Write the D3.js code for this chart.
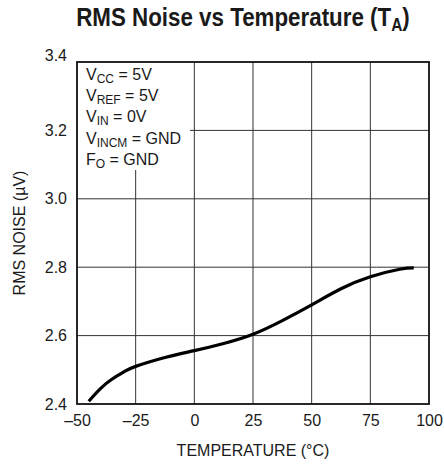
<!DOCTYPE html>
<html>
<head>
<meta charset="utf-8">
<script src="https://cdn.jsdelivr.net/npm/d3@7"></script>
<style>
  body { margin: 0; background: #fff; }
  svg text { font-family: "Liberation Sans", Arial, sans-serif; fill: #1a1a1a; }
</style>
</head>
<body>
<svg id="chart"></svg>
<script>
// values
const temps = [-45, -40, -35, -30, -25, -12.5, 0, 12.5, 25, 37.5, 50, 62.5, 75, 87.5, 93.5];
const noise = [2.408, 2.445, 2.473, 2.494, 2.51, 2.536, 2.556, 2.577, 2.604, 2.644, 2.69, 2.737, 2.772, 2.794, 2.798];

const xTicks = [-50, -25, 0, 25, 50, 75, 100];
const yTicks = [2.4, 2.6, 2.8, 3.0, 3.2, 3.4];

// conditions box: [main, subscript, rest]
const notes = [
    ['V', 'CC', ' = 5V'],
    ['V', 'REF', ' = 5V'],
    ['V', 'IN', ' = 0V'],
    ['V', 'INCM', ' = GND'],
    ['F', 'O', ' = GND']
];

function drawChart() {
    const width = 444;
    const height = 464;
    const margin = { top: 62, right: 15, bottom: 60, left: 77 };

    const svg = d3.select('#chart').attr('width', width).attr('height', height);

    const xScale = d3.scaleLinear().domain([-50, 100]).range([margin.left, width - margin.right]);
    const yScale = d3.scaleLinear().domain([2.4, 3.4]).range([height - margin.bottom, margin.top]);

    const data = temps.map((t, i) => ({ t: t, v: noise[i] }));

    // grid
    svg.append('g')
        .selectAll('line.vgrid')
        .data(xTicks.slice(1, -1))
        .enter()
        .append('line')
        .attr('x1', d => xScale(d)).attr('x2', d => xScale(d))
        .attr('y1', yScale(3.4)).attr('y2', yScale(2.4))
        .attr('stroke', '#333').attr('stroke-width', 1);

    svg.append('g')
        .selectAll('line.hgrid')
        .data(yTicks.slice(1, -1))
        .enter()
        .append('line')
        .attr('x1', xScale(-50)).attr('x2', xScale(100))
        .attr('y1', d => yScale(d)).attr('y2', d => yScale(d))
        .attr('stroke', '#333').attr('stroke-width', 1);

    // white patch behind the conditions text
    svg.append('rect')
        .attr('x', xScale(-50))
        .attr('y', yScale(3.4))
        .attr('width', 113)
        .attr('height', 108)
        .attr('fill', '#fff');

    const noteG = svg.append('g').attr('transform', `translate(${xScale(-50) + 9}, ${yScale(3.4) + 12})`);
    notes.forEach((n, i) => {
        const t = noteG.append('text')
            .attr('x', 0)
            .attr('y', i * 21.3)
            .attr('dy', '0.35em')
            .attr('font-size', '16px');
        t.append('tspan').text(n[0]);
        t.append('tspan').attr('font-size', '12px').attr('dy', '3').text(n[1]);
        t.append('tspan').attr('dy', '-3').text(n[2]);
    });

    // frame
    svg.append('rect')
        .attr('x', xScale(-50))
        .attr('y', yScale(3.4))
        .attr('width', xScale(100) - xScale(-50))
        .attr('height', yScale(2.4) - yScale(3.4))
        .attr('fill', 'none')
        .attr('stroke', '#111')
        .attr('stroke-width', 1.8);

    // curve
    svg.append('path')
        .datum(data)
        .attr('fill', 'none')
        .attr('stroke', '#000')
        .attr('stroke-width', 3.2)
        .attr('d', d3.line()
            .x(d => xScale(d.t))
            .y(d => yScale(d.v))
            .curve(d3.curveNatural));

    // x axis labels
    svg.append('g')
        .attr('transform', `translate(0, ${height - margin.bottom})`)
        .call(d3.axisBottom(xScale).tickValues(xTicks).tickSize(0).tickPadding(11)
            .tickFormat(d => d < 0 ? '\u2013' + Math.abs(d) : d))
        .call(g => g.select('.domain').remove())
        .selectAll('text')
        .attr('font-size', '16px')
        .attr('font-family', null)
        .attr('fill', '#1a1a1a');

    // y axis labels
    svg.append('g')
        .attr('transform', `translate(${margin.left}, 0)`)
        .call(d3.axisLeft(yScale).tickValues(yTicks).tickSize(0).tickPadding(10)
            .tickFormat(d3.format('.1f')))
        .call(g => g.select('.domain').remove())
        .selectAll('text')
        .attr('font-size', '16px')
        .attr('font-family', null)
        .attr('fill', '#1a1a1a')
        .attr('dy', d => d === 3.4 ? '-0.1em' : '0.32em');

    // axis titles
    svg.append('text')
        .attr('x', (xScale(-50) + xScale(100)) / 2)
        .attr('y', 450)
        .attr('dy', '0.35em')
        .attr('text-anchor', 'middle')
        .attr('font-size', '16px')
        .text('TEMPERATURE (\u00B0C)');

    svg.append('text')
        .attr('transform', `translate(19, ${(yScale(2.4) + yScale(3.4)) / 2}) rotate(-90)`)
        .attr('dy', '0.35em')
        .attr('text-anchor', 'middle')
        .attr('font-size', '16px')
        .text('RMS NOISE (\u00B5V)');

    // title, narrowed to match the condensed face of the original
    const title = svg.append('text')
        .attr('transform', 'translate(243, 17) scale(0.86, 1)')
        .attr('dy', '0.35em')
        .attr('text-anchor', 'middle')
        .attr('font-size', '26px')
        .attr('font-weight', 'bold');
    title.append('tspan').text('RMS Noise vs Temperature (T');
    title.append('tspan').attr('font-size', '18px').attr('dy', '5').text('A');
    title.append('tspan').attr('dy', '-5').text(')');
}

drawChart();
</script>
</body>
</html>
